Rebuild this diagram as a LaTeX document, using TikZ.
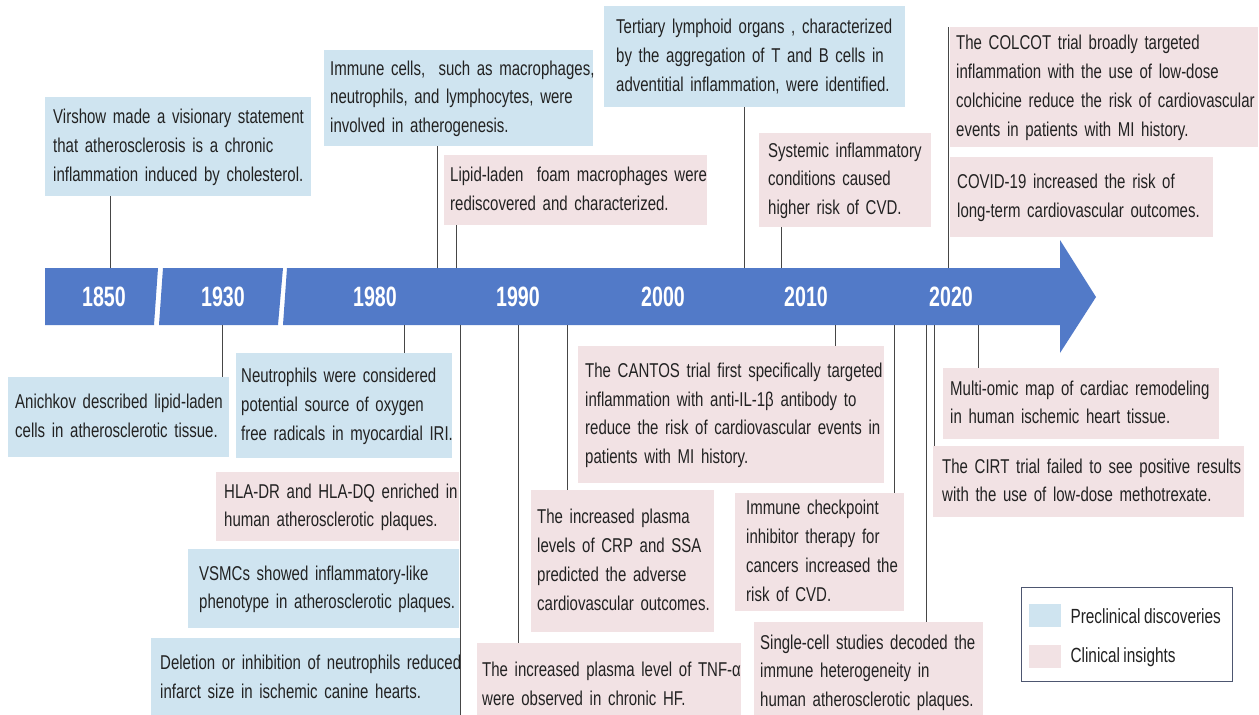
\documentclass[tikz,border=0pt]{standalone}
\usepackage{fontspec}
\setmainfont{Liberation Sans}[FakeStretch=0.75, WordSpace=0.8]
\newfontfamily\yearfont{Liberation Sans}[FakeStretch=0.70]
\definecolor{barblue}{RGB}{82,122,200}
\definecolor{preblue}{RGB}{207,228,240}
\definecolor{clinpink}{RGB}{242,226,228}
\definecolor{txt}{RGB}{34,34,34}
\definecolor{connc}{RGB}{70,70,70}
\definecolor{legc}{RGB}{77,86,112}
\newcommand{\evbox}[8][7]{%
  \pgfmathsetmacro{\evtw}{#6-2*#1}%
  \node[evt, fill=#3, inner xsep=#1pt, text width=\evtw pt, minimum height=#7pt] (#2) at (#4,#5) {\begin{tabular}{@{}l@{}}#8\end{tabular}};}
\begin{document}
\begin{tikzpicture}[x=1pt,y=-1pt,
  evt/.style={anchor=north west, inner ysep=0pt, align=left, text=txt,
    font=\fontsize{20}{28.8}\selectfont},
  conn/.style={draw=connc, line width=1pt},
  yearlbl/.style={text=white, font=\yearfont\bfseries\fontsize{28}{30}\selectfont},
  legtxt/.style={anchor=west, text=txt, font=\fontsize{20.5}{24}\selectfont},
  swatch/.style={anchor=north west, minimum width=32pt, minimum height=23pt, inner sep=0pt}]
\useasboundingbox (0,0) rectangle (1259,715);
\clip (0,0) rectangle (1259,715);
\fill[white] (0,0) rectangle (1259,715);

% timeline bar
\fill[barblue] (45,268) -- (158,268) -- (154,325) -- (45,325) -- cycle;
\fill[barblue] (163,268) -- (283,268) -- (278,325) -- (159,325) -- cycle;
\fill[barblue] (287,268) -- (1060,268) -- (1060,240) -- (1096,297) -- (1060,353) -- (1060,325) -- (283,325) -- cycle;

\node[yearlbl] (y1850) at (104,297) {1850};
\node[yearlbl] (y1930) at (223,297) {1930};
\node[yearlbl] (y1980) at (375,297) {1980};
\node[yearlbl] (y1990) at (518,297) {1990};
\node[yearlbl] (y2000) at (663,297) {2000};
\node[yearlbl] (y2010) at (806,297) {2010};
\node[yearlbl] (y2020) at (951,297) {2020};

% top boxes
\evbox[8]{virshow}{preblue}{45}{97}{266}{99}{Virshow made a visionary statement\\that atherosclerosis is a chronic\\inflammation induced by cholesterol.}
\evbox[6]{immune}{preblue}{324}{50}{269}{96}{Immune cells,~ such as macrophages,\\neutrophils, and lymphocytes, were\\involved in atherogenesis.}
\evbox[6]{lipid}{clinpink}{444}{155}{263}{70}{Lipid-laden~ foam macrophages were\\rediscovered and characterized.}
\evbox[12]{tertiary}{preblue}{604}{6}{301}{101}{Tertiary lymphoid organs , characterized\\by the aggregation of T and B cells in\\adventitial inflammation, were identified.}
\evbox[9]{systemic}{clinpink}{759}{133}{172}{94}{Systemic inflammatory\\conditions caused\\higher risk of CVD.}
\evbox[6]{colcot}{clinpink}{950}{27}{308}{120}{The COLCOT trial broadly targeted\\inflammation with the use of low-dose\\colchicine reduce the risk of cardiovascular\\events in patients with MI history.}
\evbox[7]{covid}{clinpink}{950}{157}{263}{80}{COVID-19 increased the risk of\\long-term cardiovascular outcomes.}

% bottom boxes
\evbox[7]{anichkov}{preblue}{8}{377}{221}{80}{Anichkov described lipid-laden\\cells in atherosclerotic tissue.}
\evbox[5]{neutro}{preblue}{236}{353}{216}{105}{Neutrophils were considered\\potential source of oxygen\\free radicals in myocardial IRI.}
\evbox[8]{hla}{clinpink}{216}{472}{243}{69}{HLA-DR and HLA-DQ enriched in\\human atherosclerotic plaques.}
\evbox[11]{vsmc}{preblue}{188}{549}{271}{79}{VSMCs showed inflammatory-like\\phenotype in atherosclerotic plaques.}
\evbox[9]{deletion}{preblue}{151}{638}{309}{80}{Deletion or inhibition of neutrophils reduced\\infarct size in ischemic canine hearts.}
\evbox[5]{tnf}{clinpink}{477}{643}{264}{84}{The increased plasma level of TNF-α\\were observed in chronic HF.}
\evbox[6]{crp}{clinpink}{531}{490}{183}{142}{The increased plasma\\levels of CRP and SSA\\predicted the adverse\\cardiovascular outcomes.}
\evbox[7]{cantos}{clinpink}{578}{346}{306}{137}{The CANTOS trial first specifically targeted\\inflammation with anti-IL-1β antibody to\\reduce the risk of cardiovascular events in\\patients with MI history.}
\evbox[11]{checkpoint}{clinpink}{735}{493}{169}{118}{Immune checkpoint\\inhibitor therapy for\\cancers increased the\\risk of CVD.}
\evbox[6]{single}{clinpink}{754}{622}{229}{100}{Single-cell studies decoded the\\immune heterogeneity in\\human atherosclerotic plaques.}
\evbox[7]{multi}{clinpink}{943}{368}{276}{71}{Multi-omic map of cardiac remodeling\\in human ischemic heart tissue.}
\evbox[9]{cirt}{clinpink}{933}{446}{311}{71}{The CIRT trial failed to see positive results\\with the use of low-dose methotrexate.}

% connectors (top)
\coordinate (c1) at (110,268);
\coordinate (c2) at (437,268);
\coordinate (c3) at (456,268);
\coordinate (c4) at (744,268);
\coordinate (c5) at (781,268);
\coordinate (c6) at (948,268);
\draw[conn] (c1) -- (c1 |- virshow.south);
\draw[conn] (c2) -- (c2 |- immune.south);
\draw[conn] (c3) -- (c3 |- lipid.south);
\draw[conn] (c4) -- (c4 |- tertiary.south);
\draw[conn] (c5) -- (c5 |- systemic.south);
\draw[conn] (c6) -- (c6 |- colcot.north);

% connectors (bottom)
\coordinate (d1) at (222,325);
\coordinate (d2) at (404,325);
\coordinate (d3) at (460,325);
\coordinate (d3e) at (460,715);
\coordinate (d4) at (518,325);
\coordinate (d5) at (567,325);
\coordinate (d6) at (835,325);
\coordinate (d7) at (894,325);
\coordinate (d8) at (926,325);
\coordinate (d9) at (934,325);
\coordinate (d10) at (978,325);
\draw[conn] (d1) -- (d1 |- anichkov.north);
\draw[conn] (d2) -- (d2 |- neutro.north);
\draw[conn] (d3) -- (d3e);
\draw[conn] (d4) -- (d4 |- tnf.north);
\draw[conn] (d5) -- (d5 |- crp.north);
\draw[conn] (d6) -- (d6 |- cantos.north);
\draw[conn] (d7) -- (d7 |- checkpoint.north);
\draw[conn] (d8) -- (d8 |- single.north);
\draw[conn] (d9) -- (d9 |- cirt.north);
\draw[conn] (d10) -- (d10 |- multi.north);

% legend
\node[draw=legc, line width=1.2pt, anchor=north west, minimum width=211pt, minimum height=94pt, inner sep=0pt] (legend) at (1021,587) {};
\node[swatch, fill=preblue] (swpre) at (1029,604) {};
\node[swatch, fill=clinpink] (swclin) at (1029,645) {};
\node[legtxt] (lpre) at (1067,616) {Preclinical discoveries};
\node[legtxt] (lclin) at (1067,657) {Clinical insights};
\end{tikzpicture}
\end{document}
